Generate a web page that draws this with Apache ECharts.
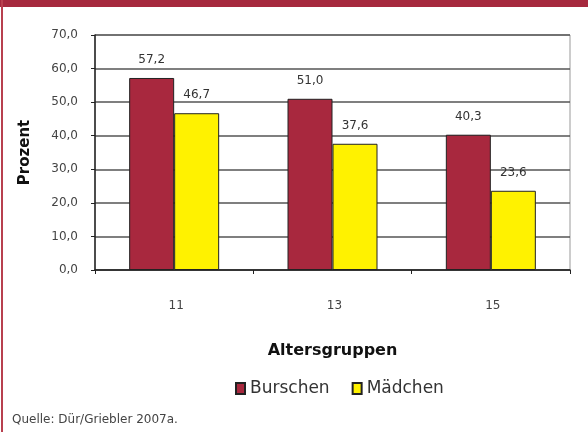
<!DOCTYPE html>
<html><head><meta charset="utf-8">
<script src="https://cdn.jsdelivr.net/npm/echarts@6/dist/echarts.min.js"></script>
<style>html,body{margin:0;padding:0;background:#fff}#c{width:588px;height:432px}</style>
</head><body><div id="c"></div>
<script>
const categories = ['11', '13', '15'];
const burschen = [57.2, 51.0, 40.3];
const maedchen = [46.7, 37.6, 23.6];
const fmt = v => v.toFixed(1).replace('.', ',');
const chart = echarts.init(document.getElementById('c'));
const font = 'DejaVu Sans';
const lbl = {show: true, position: 'top', distance: 12, color: '#333', fontSize: 12, fontFamily: font,
  formatter: p => fmt(p.value)};
chart.setOption({
  animation: false,
  backgroundColor: '#fff',
  textStyle: {fontFamily: font},
  grid: {left: 95, right: 18, top: 35, bottom: 162, show: true, borderColor: '#999', borderWidth: 1},
  legend: {
    data: ['Burschen', 'Mädchen'], top: 375, left: 230, itemWidth: 9, itemHeight: 11, itemGap: 22,
    icon: 'rect',
    textStyle: {fontSize: 17, color: '#333', fontFamily: font}
  },
  xAxis: {
    type: 'category', data: categories,
    axisLine: {lineStyle: {color: '#222', width: 1.5}},
    axisTick: {show: true, length: 4, lineStyle: {color: '#222'}},
    axisLabel: {margin: 30, fontSize: 12, color: '#444', fontFamily: font, padding: [0, 0, 0, 4]},
    name: 'Altersgruppen', nameLocation: 'middle', nameGap: 73,
    nameTextStyle: {fontSize: 16, fontWeight: 'bold', color: '#111', fontFamily: font}
  },
  yAxis: {
    type: 'value', min: 0, max: 70, interval: 10,
    axisLine: {show: true, lineStyle: {color: '#222', width: 1.5}},
    axisTick: {show: true, length: 4, lineStyle: {color: '#222'}},
    axisLabel: {formatter: v => fmt(v), fontSize: 12, color: '#444', margin: 17, fontFamily: font},
    splitLine: {lineStyle: {color: '#555', width: 1.5}},
    name: 'Prozent', nameLocation: 'middle', nameGap: 62,
    nameTextStyle: {fontSize: 15, fontWeight: 'bold', color: '#111', fontFamily: font}
  },
  series: [
    {name: 'Burschen', type: 'bar', data: burschen, barWidth: 45, barGap: '0%',
     itemStyle: {color: '#A8283E', borderColor: '#222', borderWidth: 1}, label: lbl},
    {name: 'Mädchen', type: 'bar', data: maedchen, barWidth: 45, barGap: '0%',
     itemStyle: {color: '#FFF200', borderColor: '#222', borderWidth: 1}, label: lbl}
  ],
  graphic: [
    {type: 'rect', shape: {x: 0, y: 0, width: 588, height: 7}, style: {fill: '#A6293E'}},
    {type: 'rect', shape: {x: 1, y: 0, width: 2, height: 432}, style: {fill: '#B8404F'}},
    {type: 'text', left: 12, top: 414, style: {text: 'Quelle: Dür/Griebler 2007a.', fontSize: 12, fill: '#444', fontFamily: font}}
  ]
});
</script></body></html>
